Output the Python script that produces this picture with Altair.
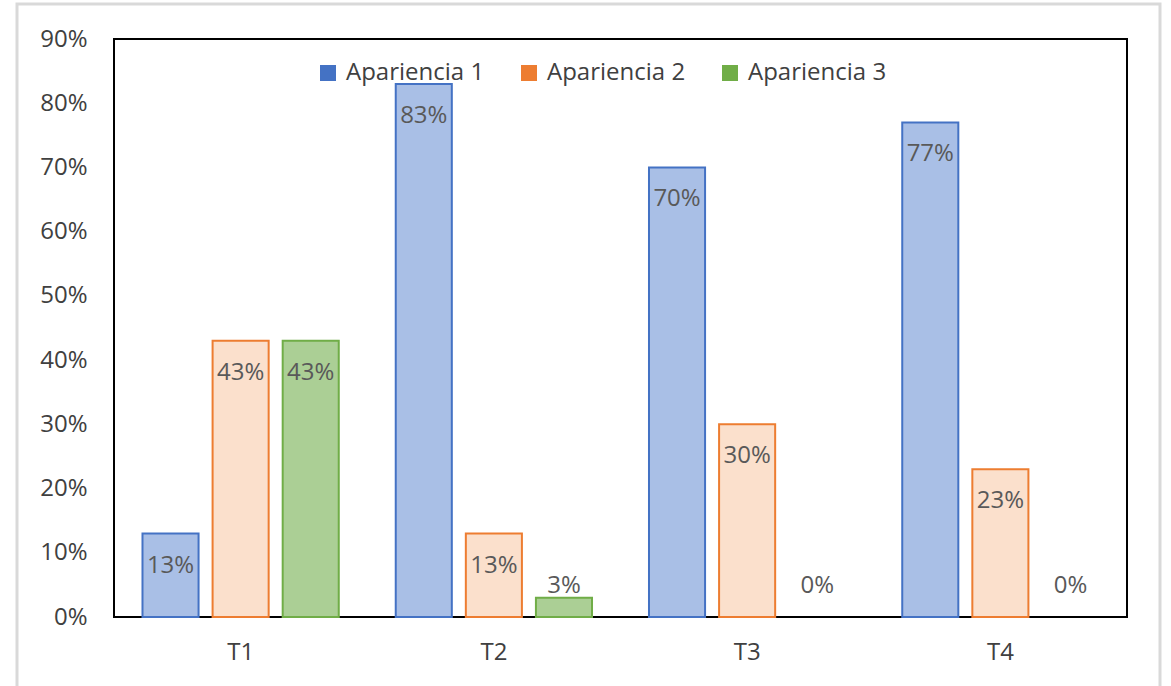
import altair as alt
import pandas as pd

categories = ["T1", "T2", "T3", "T4"]
series = ["Apariencia 1", "Apariencia 2", "Apariencia 3"]
apariencia_1 = [13, 83, 70, 77]
apariencia_2 = [43, 13, 30, 23]
apariencia_3 = [43, 3, 0, 0]
y_ticks = [0, 10, 20, 30, 40, 50, 60, 70, 80, 90]

strong_colors = ["#4472C4", "#ED7D31", "#70AD47"]
tint_colors = ["#a9bfe6", "#fbe0cc", "#abcf95"]

rows = []
for s, vals in zip(series, [apariencia_1, apariencia_2, apariencia_3]):
    for c, v in zip(categories, vals):
        rows.append({"cat": c, "series": s, "v": v})
df = pd.DataFrame(rows)

FONT = "Open Sans"

x_enc = alt.X(
    "cat:N",
    sort=categories,
    scale=alt.Scale(paddingInner=0.225, paddingOuter=0.1125),
    axis=alt.Axis(title=None, labelAngle=0, labelFontSize=24, labelFont=FONT,
                  labelColor="#404040", ticks=False, tickSize=0, domain=False,
                  labelPadding=23, grid=False),
)
xoff_enc = alt.XOffset("series:N", sort=series,
                       scale=alt.Scale(paddingInner=0.2, paddingOuter=0))
y_enc = alt.Y(
    "v:Q",
    scale=alt.Scale(domain=[0, 90], nice=False),
    axis=alt.Axis(title=None, values=y_ticks, labelExpr="datum.value + '%'",
                  labelFontSize=24, labelFont=FONT, labelColor="#404040",
                  ticks=False, tickSize=0, domain=False, grid=False,
                  labelPadding=27),
)

base = alt.Chart(df)

legend_layer = base.mark_bar().encode(
    x=x_enc, xOffset=xoff_enc, y=y_enc,
    color=alt.Color(
        "series:N", sort=series,
        scale=alt.Scale(domain=series, range=strong_colors),
        legend=alt.Legend(
            title=None, orient="none", direction="horizontal",
            legendX=202, legendY=22, symbolType="square", symbolSize=256,
            symbolStrokeWidth=0, labelFontSize=24, labelFont=FONT,
            labelColor="#404040", columnPadding=32, labelOffset=6,
        ),
    ),
).transform_filter("datum.v > 0")

bars = base.mark_bar(strokeWidth=2).encode(
    x=x_enc, xOffset=xoff_enc, y=y_enc,
    fill=alt.Fill("series:N", sort=series,
                  scale=alt.Scale(domain=series, range=tint_colors), legend=None),
    stroke=alt.Stroke("series:N", sort=series,
                      scale=alt.Scale(domain=series, range=strong_colors), legend=None),
).transform_filter("datum.v > 0")

labels_big = base.mark_text(baseline="middle", dy=32, fontSize=24, font=FONT,
                            color="#595959").encode(
    x=x_enc, xOffset=xoff_enc, y=y_enc, text="label:N",
).transform_calculate(label="datum.v + '%'").transform_filter("datum.v >= 5")

labels_small = base.mark_text(baseline="middle", dy=-31, fontSize=24, font=FONT,
                              color="#595959").encode(
    x=x_enc, xOffset=xoff_enc, y=alt.datum(0), text="label:N",
).transform_calculate(label="datum.v + '%'").transform_filter("datum.v < 5")

frame = alt.Chart(pd.DataFrame({"f": [0]})).mark_rect(
    filled=False, stroke="#d9d9d9", strokeWidth=3
).encode(x=alt.value(-97), x2=alt.value(1046), y=alt.value(-35), y2=alt.value(700))

chart = alt.layer(frame, legend_layer, bars, labels_big, labels_small).properties(
    width=1013, height=578,
    autosize=alt.AutoSizeParams(type="none"),
    padding={"left": 114, "top": 39, "right": 44, "bottom": 69},
    background="white",
).configure_view(stroke="black", strokeWidth=2)

chart.save("out.html", embed_options={"renderer": "svg", "actions": False})
